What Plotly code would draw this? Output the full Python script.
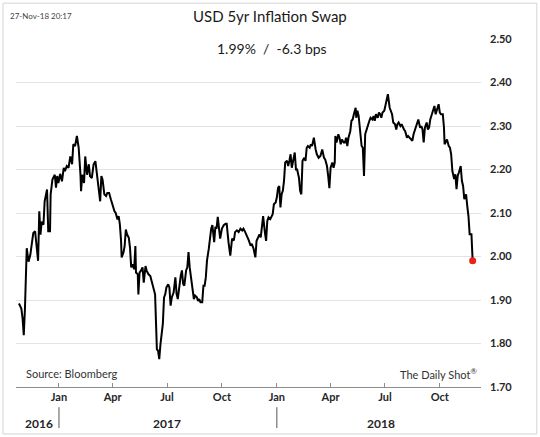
import pandas as pd
import plotly.graph_objects as go

day_offsets = [
    -67, -63, -61, -59, -57, -54, -51, -48, -45, -43, -40, -37, -35, -33, -31, -29, -26, -24, -22, -20,
    -18, -15, -14, -11, -7, -5, -3, -1, 2, 5, 8, 10, 13, 16, 19, 22, 24, 27, 30, 33,
    36, 37, 39, 42, 44, 47, 50, 52, 55, 58, 61,
    63, 66, 69, 71, 73, 76, 79, 81, 84, 87, 90, 93, 95, 98, 100, 102, 104, 105, 108, 110,
    112, 114, 117, 119, 121, 123, 126, 128, 129, 132, 133, 135, 137, 140, 142, 145, 147, 150, 153, 156,
    159, 161, 163, 164, 166, 168, 170, 172, 174, 176, 178, 180, 183, 185, 187, 189, 192,
    195, 197, 199, 202, 204, 206, 208, 210, 213, 215, 217, 219, 222, 224, 226, 228, 231, 233, 235, 237,
    240, 242, 244, 246, 248, 251, 253, 255, 257, 260, 262, 264, 266, 269, 270, 273, 276, 279, 281, 284,
    287, 290, 293, 295, 298, 301, 304, 307, 309, 312, 315, 318, 321, 323, 326, 329,
    331, 333, 336, 338, 340, 342, 345, 347, 349, 351, 354, 356, 358, 360, 363, 365, 367, 369, 371, 373,
    375, 377, 379, 382, 384, 386, 388, 390, 393, 395, 397, 399, 402, 404, 406, 408, 411, 413, 415, 417,
    420, 422, 424, 427, 430, 432, 435, 438, 441, 444, 446, 449, 451, 453, 455, 458, 460, 462,
    463, 465, 468, 470, 472, 474, 477, 479, 481, 483, 485, 488, 490, 492, 494, 497, 498, 500, 502, 504,
    507, 509, 511, 513, 516, 518, 520, 522, 525, 527, 529, 531, 534, 536, 538, 540, 542, 545, 547, 549,
    551, 554, 556, 558, 560, 563, 565, 567, 569, 572, 574, 576, 578, 580, 583, 585, 587,
    589, 592, 594, 597, 600, 602, 605, 607, 609, 611, 613, 616, 618, 620, 622, 625, 627, 629, 631, 634,
    636, 638, 640, 643, 645, 646, 648, 650, 653, 655, 657, 659, 662, 664, 666, 668, 670, 673, 675, 677,
    679, 682, 684, 686, 688, 691, 693,
]

swap_rate = [
    1.892, 1.88, 1.858, 1.819, 1.88, 2.019, 1.988, 2.004, 2.035, 2.054, 2.058, 2.019, 1.99, 2.104, 2.05, 2.08, 2.073, 2.127, 2.142, 2.154,
    2.058, 2.058, 2.142, 2.177, 2.188, 2.158, 2.185, 2.169, 2.19, 2.173, 2.204, 2.196, 2.208, 2.204, 2.23, 2.212, 2.258, 2.254, 2.277, 2.25,
    2.188, 2.15, 2.188, 2.169, 2.23, 2.188, 2.212, 2.185, 2.18, 2.212, 2.219,
    2.196, 2.166, 2.127, 2.185, 2.177, 2.143, 2.139, 2.146, 2.146, 2.131, 2.116, 2.104, 2.10, 2.085, 2.093, 2.074, 2.036, 1.998, 2.009, 2.024,
    2.062, 2.051, 2.043, 2.02, 1.975, 1.982, 1.971, 2.024, 1.963, 1.959, 1.913, 1.963, 1.967, 1.975, 1.94, 1.978, 1.967, 1.959, 1.955, 1.94,
    1.929, 1.913, 1.829, 1.787, 1.783, 1.764, 1.798, 1.829, 1.845, 1.906, 1.913, 1.929, 1.936, 1.929, 1.887, 1.906, 1.917,
    1.952, 1.914, 1.902, 1.945, 1.956, 1.968, 1.937, 1.933, 1.968, 1.975, 2.01, 1.975, 1.945, 1.914, 1.902, 1.91, 1.906, 1.898, 1.902, 1.895,
    1.895, 1.933, 1.933, 1.952, 1.991, 2.018, 2.041, 2.064, 2.072, 2.033, 2.068, 2.064, 2.091, 2.06, 2.041, 2.064, 2.072, 2.075, 2.075, 2.033,
    2.002, 2.041, 2.037, 2.056, 2.06, 2.056, 2.064, 2.06, 2.064, 2.056, 2.048, 2.037, 2.025, 2.029, 2.018, 1.998,
    2.036, 2.044, 2.051, 2.044, 2.067, 2.093, 2.055, 2.036, 2.082, 2.09, 2.086, 2.09, 2.097, 2.12, 2.124, 2.136, 2.158, 2.162, 2.113, 2.143,
    2.151, 2.174, 2.216, 2.22, 2.208, 2.22, 2.235, 2.204, 2.223, 2.239, 2.20, 2.20, 2.181, 2.151, 2.143, 2.22, 2.227, 2.22, 2.25, 2.254,
    2.25, 2.258, 2.254, 2.273, 2.246, 2.235, 2.227, 2.231, 2.246, 2.227, 2.223, 2.208, 2.185, 2.157, 2.204, 2.216, 2.204, 2.216,
    2.277, 2.262, 2.281, 2.273, 2.258, 2.269, 2.262, 2.262, 2.273, 2.254, 2.273, 2.288, 2.312, 2.315, 2.327, 2.342, 2.319, 2.335, 2.323, 2.288,
    2.254, 2.25, 2.185, 2.281, 2.296, 2.308, 2.312, 2.319, 2.315, 2.323, 2.312, 2.327, 2.319, 2.331, 2.327, 2.319, 2.331, 2.335, 2.35, 2.362,
    2.373, 2.342, 2.331, 2.327, 2.308, 2.304, 2.292, 2.304, 2.308, 2.30, 2.304, 2.296, 2.292, 2.288, 2.273, 2.277, 2.273,
    2.269, 2.266, 2.281, 2.292, 2.304, 2.315, 2.296, 2.30, 2.292, 2.262, 2.296, 2.308, 2.292, 2.296, 2.315, 2.331, 2.338, 2.346, 2.327, 2.338,
    2.35, 2.331, 2.327, 2.327, 2.296, 2.258, 2.266, 2.269, 2.254, 2.25, 2.235, 2.197, 2.178, 2.189, 2.155, 2.186, 2.193, 2.208, 2.174, 2.162,
    2.132, 2.143, 2.116, 2.093, 2.051, 2.051, 1.99,
]

month_ticks = ["2017-01-01", "2017-04-01", "2017-07-01", "2017-10-01",
               "2018-01-01", "2018-04-01", "2018-07-01", "2018-10-01"]
month_labels = ["Jan", "Apr", "Jul", "Oct", "Jan", "Apr", "Jul", "Oct"]
year_labels = ["2016", "2017", "2018"]
year_label_dates = ["2016-11-28", "2017-07-01", "2018-06-24"]
year_breaks = ["2017-01-01", "2018-01-01"]

FONT = "Lato"
TEXT = "#262626"

dates = pd.Timestamp("2017-01-01") + pd.to_timedelta(day_offsets, unit="D")

fig = go.Figure()
fig.add_trace(go.Scatter(x=dates, y=swap_rate, mode="lines",
                         line=dict(color="black", width=2), hoverinfo="skip"))
fig.add_trace(go.Scatter(x=[dates[-1]], y=[swap_rate[-1]], mode="markers",
                         marker=dict(color="#e8221b", size=7), hoverinfo="skip"))

fig.update_layout(
    width=540, height=437,
    margin=dict(l=16, r=59, t=39, b=50),
    paper_bgcolor="white", plot_bgcolor="white",
    showlegend=False,
    font=dict(family=FONT, color=TEXT),
)

fig.update_xaxes(
    type="date", range=["2016-10-21", "2018-12-09"],
    tickvals=month_ticks, ticktext=month_labels,
    ticks="inside", ticklen=4, tickcolor="#8c8c8c",
    showline=True, linecolor="#8c8c8c", linewidth=1,
    showgrid=False, zeroline=False,
    tickfont=dict(family=FONT, size=11, color=TEXT, weight="bold"),
)
fig.update_yaxes(
    side="right", range=[1.70, 2.50], dtick=0.1, tickformat=".2f",
    showgrid=True, gridcolor="#e3e3e3", gridwidth=1,
    zeroline=False, showline=False, ticks="",
    ticklabelstandoff=8,
    tickfont=dict(family=FONT, size=11, color=TEXT, weight="bold"),
)

# frame around the whole picture
fig.add_shape(type="rect", xref="paper", yref="paper",
              x0=-0.028, x1=1.12, y0=-0.135, y1=1.103,
              line=dict(color="#d4d4d4", width=1))
# gap in the top gridline behind the subtitle
fig.add_shape(type="rect", xref="paper", yref="paper",
              x0=0.405, x1=0.701, y0=0.985, y1=1.015,
              line=dict(width=0), fillcolor="white", layer="above")

for d in year_breaks:
    fig.add_shape(type="line", xref="x", yref="paper", x0=d, x1=d,
                  y0=-0.058, y1=-0.118, line=dict(color="#555555", width=1))

for label, d in zip(year_labels, year_label_dates):
    fig.add_annotation(x=d, y=-0.106, xref="x", yref="paper", text=label,
                       xanchor="center", yanchor="middle", showarrow=False,
                       font=dict(size=12, color=TEXT, weight="bold"))

fig.add_annotation(x=0.546, y=1.066, xref="paper", yref="paper",
                   xanchor="center", yanchor="middle",
                   text="USD 5yr Inflation Swap", showarrow=False,
                   font=dict(size=15, color="#1a1a1a"))
fig.add_annotation(x=0.5505, y=0.974, xref="paper", yref="paper",
                   xanchor="center", yanchor="middle",
                   text="1.99%  /  -6.3 bps", showarrow=False,
                   font=dict(size=14, color="#1a1a1a"))
fig.add_annotation(x=-0.017, y=1.066, xref="paper", yref="paper",
                   xanchor="left", yanchor="middle",
                   text="27-Nov-18 20:17", showarrow=False,
                   font=dict(size=8, color="#444444"))
fig.add_annotation(x=0.017, y=0.04, xref="paper", yref="paper",
                   xanchor="left", yanchor="middle",
                   text="Source: Bloomberg", showarrow=False,
                   font=dict(size=11, color="#333333"))
fig.add_annotation(x=0.996, y=0.04, xref="paper", yref="paper",
                   xanchor="right", yanchor="middle",
                   text="The Daily Shot<sup>®</sup>", showarrow=False,
                   font=dict(size=11, color="#333333"))

# the page's default body margin would shift the chart by 8px
fig.write_html("out.html", config={"displayModeBar": False},
               post_script="document.body.style.margin = '0';")
